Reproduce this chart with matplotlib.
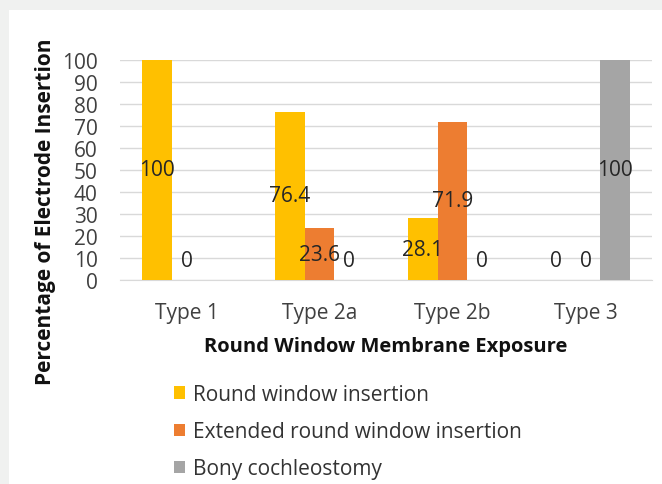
import numpy as np
import matplotlib.pyplot as plt
from matplotlib.patches import Rectangle, Patch

plt.rcParams["font.family"] = ["Open Sans", "DejaVu Sans"]

# data
categories = ["Type 1", "Type 2a", "Type 2b", "Type 3"]
series = ["Round window insertion", "Extended round window insertion", "Bony cochleostomy"]
round_window = [100, 76.4, 28.1, 0]
extended_rw = [0, 23.6, 71.9, 0]
bony = [None, 0, 0, 100]
colors = ["#FFC000", "#ED7D31", "#A5A5A5"]

fig = plt.figure(figsize=(6.62, 4.85), dpi=100)
fig.patch.set_facecolor("#F0F1F0")
fig.patches.append(Rectangle((9 / 662, 0), 1, 1 - 11 / 485, transform=fig.transFigure,
                             facecolor="white", edgecolor="none", zorder=-1))

ax = fig.add_axes([120 / 662, 1 - 281 / 485, 532 / 662, 220 / 485])
ax.set_facecolor("white")

x = np.arange(len(categories))
w = 0.225
for i, vals in enumerate([round_window, extended_rw, bony]):
    pos = x + (i - 1) * w
    for p, v in zip(pos, vals):
        if v is None:
            continue
        ax.bar(p, v, width=w, color=colors[i], zorder=3)
        y = v / 2 if v > 0 else 9
        ax.text(p, y, f"{v:g}", ha="center", va="center", fontsize=15,
                color="#262626", zorder=4)

ax.set_xlim(-0.5, len(categories) - 0.5)
ax.set_ylim(0, 100)
ax.set_yticks(range(0, 101, 10))
ax.set_xticks(x)
ax.set_xticklabels(categories)
ax.tick_params(axis="both", length=0, labelsize=15, colors="#404040")
ax.tick_params(axis="y", pad=16)
ax.tick_params(axis="x", pad=16)
ax.grid(axis="y", color="#D9D9D9", linewidth=1, zorder=0)
for s in ["top", "right", "left"]:
    ax.spines[s].set_visible(False)
ax.spines["bottom"].set_color("#D9D9D9")

ax.set_xlabel("Round Window Membrane Exposure", fontsize=14.5, fontweight="bold",
              color="#111111", labelpad=9)
fig.text(46 / 662, 1 - 212 / 485, "Percentage of Electrode Insertion", rotation=90,
         ha="center", va="center", fontsize=15, fontweight="bold", color="#111111")

handles = [Patch(facecolor=c, edgecolor="none") for c in colors]
fig.legend(handles, series, loc="upper left", bbox_to_anchor=(174 / 662, 1 - 385 / 485),
           frameon=False, fontsize=15, handlelength=0.53, handleheight=0.53,
           handletextpad=0.4, labelspacing=0.78, borderpad=0, borderaxespad=0,
           labelcolor="#333333")

plt.savefig("out.png", dpi=100)
plt.close()
